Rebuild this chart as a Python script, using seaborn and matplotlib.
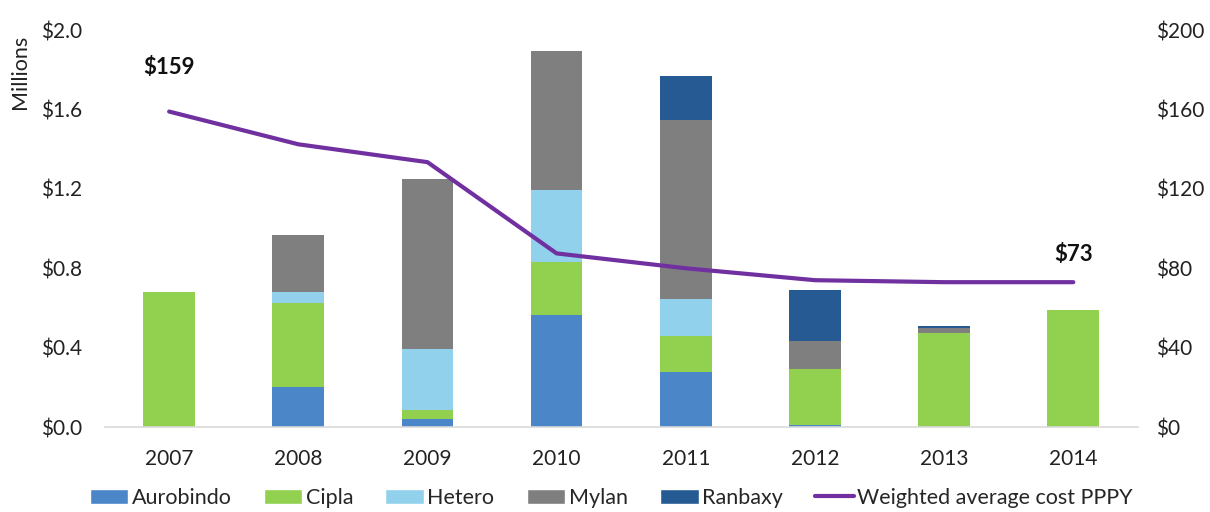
import matplotlib
matplotlib.use("Agg")
import matplotlib.pyplot as plt
import seaborn as sns
import numpy as np
import pandas as pd
from matplotlib.patches import Patch
from matplotlib.lines import Line2D

# data (values in $ millions, cost in $)
years = ["2007", "2008", "2009", "2010", "2011", "2012", "2013", "2014"]
aurobindo = [0.00, 0.20, 0.04, 0.565, 0.278, 0.010, 0.000, 0.000]
cipla = [0.68, 0.425, 0.044, 0.267, 0.183, 0.284, 0.473, 0.590]
hetero = [0.00, 0.053, 0.307, 0.361, 0.183, 0.000, 0.000, 0.000]
mylan = [0.00, 0.29, 0.858, 0.701, 0.904, 0.139, 0.027, 0.000]
ranbaxy = [0.00, 0.00, 0.000, 0.000, 0.220, 0.257, 0.008, 0.000]
cost = [159, 142.5, 133.5, 87.5, 80, 74, 73, 73]

companies = ["Aurobindo", "Cipla", "Hetero", "Mylan", "Ranbaxy"]
colors = ["#4A86C8", "#92D050", "#92D1EC", "#7F7F7F", "#265A93"]
line_color = "#7030A0"

sns.set_style("white")
plt.rcParams["font.family"] = ["Lato", "DejaVu Sans"]

df = pd.DataFrame({"year": years, "Aurobindo": aurobindo, "Cipla": cipla,
                   "Hetero": hetero, "Mylan": mylan, "Ranbaxy": ranbaxy})
cum = df[companies].cumsum(axis=1)

fig = plt.figure(figsize=(12.1, 5.12), dpi=100)
ax = fig.add_axes([0.0864, 0.166, 0.854, 0.775])

# stacked bars: draw cumulative totals from the top segment down
for name, col in reversed(list(zip(companies, colors))):
    sns.barplot(x=df["year"], y=cum[name], color=col, width=0.4,
                saturation=1, ax=ax, edgecolor="none")

ax.set_ylim(0, 2.0)
ax.set_xlim(-0.5, 7.5)
ax.set_yticks(np.arange(0, 2.01, 0.4))
ax.set_yticklabels([f"${v:.1f}" for v in np.arange(0, 2.01, 0.4)])
ax.set_xlabel("")
ax.set_ylabel("")
ax.tick_params(axis="both", length=0, labelsize=15, colors="#222222")
ax.tick_params(axis="x", pad=16)
ax.tick_params(axis="y", pad=16)
for s in ["top", "right", "left"]:
    ax.spines[s].set_visible(False)
ax.spines["bottom"].set_color("#D9D9D9")
ax.spines["bottom"].set_linewidth(1.2)

ax2 = ax.twinx()
sns.lineplot(x=np.arange(len(years)), y=cost, color=line_color, linewidth=3,
             ax=ax2)
ax2.set_ylim(0, 200)
ax2.set_yticks(np.arange(0, 201, 40))
ax2.set_yticklabels([f"${v}" for v in range(0, 201, 40)])
ax2.tick_params(axis="y", length=0, labelsize=15, colors="#222222", pad=13)
for s in ax2.spines.values():
    s.set_visible(False)

ax2.text(0, cost[0] + 22, f"${cost[0]}", ha="center", va="center",
         fontsize=16, fontweight="bold", color="#111111")
ax2.text(7, cost[-1] + 14, f"${cost[-1]}", ha="center", va="center",
         fontsize=16, fontweight="bold", color="#111111")

fig.text(20 / 1210, 1 - 72 / 512, "Millions", rotation=90, ha="center",
         va="center", fontsize=15.5, color="#222222")

handles = [Patch(facecolor=c, label=n) for n, c in zip(companies, colors)]
handles.append(Line2D([0], [0], color=line_color, linewidth=3,
                      label="Weighted average cost PPPY"))
fig.legend(handles=handles, loc="center", bbox_to_anchor=(0.505, 1 - 498 / 512),
           ncol=6, frameon=False, fontsize=15.5, handlelength=1.8,
           handleheight=0.7, columnspacing=1.5, handletextpad=0.15)

fig.savefig("out.png", dpi=100)
